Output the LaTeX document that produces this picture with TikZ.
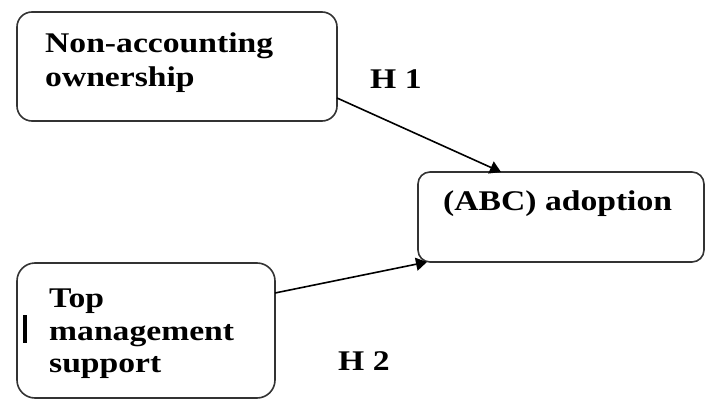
\documentclass[tikz,border=0pt]{standalone}
\usepackage{fontspec}
\setmainfont{Liberation Serif}
\usetikzlibrary{arrows.meta}
\begin{document}
\begin{tikzpicture}[x=1pt,y=-1pt,
  box/.style={draw=black!80,line width=1.6pt,rounded corners=15pt,inner sep=0pt,outer sep=0pt},
  lbl/.style={anchor=base west,inner sep=0pt,font=\fontsize{28.5}{34}\selectfont\bfseries},
  arr/.style={line width=1.6pt,-{Triangle[length=11pt,width=13pt]}}]
\useasboundingbox (0,0) rectangle (709,401);
\node[box,minimum width=320pt,minimum height=109pt] (b1) at (177,66.5) {};
\node[box,minimum width=286pt,minimum height=90pt,rounded corners=12pt] (abc) at (561,217) {};
\node[box,minimum width=258pt,minimum height=135pt,rounded corners=18pt] (b3) at (146,330.5) {};
\node[lbl] (t1a) at (45,53) {\scalebox{1.18}[1]{Non-accounting}};
\node[lbl] (t1b) at (45,87) {\scalebox{1.18}[1]{ownership}};
\node[lbl] (t2) at (443,210) {\scalebox{1.18}[1]{(ABC) adoption}};
\node[lbl] (t3a) at (49,307) {\scalebox{1.18}[1]{Top}};
\node[lbl] (t3b) at (49,340) {\scalebox{1.18}[1]{management}};
\node[lbl] (t3c) at (49,372) {\scalebox{1.18}[1]{support}};
\node[lbl] (h1) at (370,89) {\scalebox{1.18}[1]{H 1}};
\node[lbl] (h2) at (338,370) {\scalebox{1.18}[1]{H 2}};
\fill[black] (23,315) rectangle (27,343);
\draw[arr] ([yshift=23pt]b1.south east) -- ([xshift=83pt]abc.north west);
\draw[arr] ([yshift=-30pt]b3.north east) -- ([xshift=9pt]abc.south west);
\end{tikzpicture}
\end{document}
